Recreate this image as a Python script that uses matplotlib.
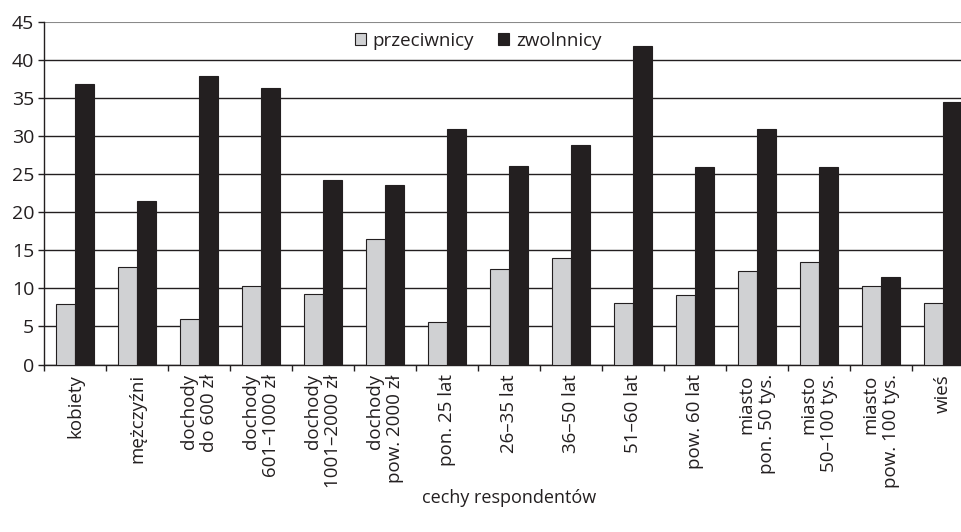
import matplotlib
matplotlib.use("Agg")
import matplotlib.pyplot as plt
import numpy as np

categories = [
    "kobiety", "mężczyźni", "dochody\ndo 600 zł", "dochody\n601–1000 zł",
    "dochody\n1001–2000 zł", "dochody\npow. 2000 zł", "pon. 25 lat", "26–35 lat",
    "36–50 lat", "51–60 lat", "pow. 60 lat", "miasto\npon. 50 tys.",
    "miasto\n50–100 tys.", "miasto\npow. 100 tys.", "wieś",
]
przeciwnicy = [7.9, 12.8, 6.0, 10.3, 9.3, 16.5, 5.6, 12.6, 14.0, 8.1, 9.1, 12.3, 13.5, 10.3, 8.1]
zwolnnicy = [36.8, 21.5, 37.9, 36.3, 24.3, 23.6, 31.0, 26.1, 28.9, 41.9, 25.9, 31.0, 25.9, 11.5, 34.5]
yticks = list(range(0, 46, 5))
series_names = ["przeciwnicy", "zwolnnicy"]
xlabel = "cechy respondentów"

plt.rcParams['font.family'] = ['Open Sans', 'DejaVu Sans']
LIGHT = "#d0d1d3"
DARK = "#231f20"

fig = plt.figure(figsize=(9.62, 5.32), dpi=100)
ax = fig.add_axes([44/962, 167.5/532, 930/962, 342.5/532])

x = np.arange(len(categories))
w = 0.3
ax.bar(x - w/2, przeciwnicy, w, color=LIGHT, edgecolor=DARK, linewidth=0.8,
       label=series_names[0], zorder=3)
ax.bar(x + w/2, zwolnnicy, w, color=DARK, edgecolor=DARK, linewidth=0.8,
       label=series_names[1], zorder=3)

ax.set_xlim(-0.5, len(categories) - 0.5)
ax.set_ylim(0, 45)
ax.set_yticks(yticks)
ax.grid(axis='y', color=DARK, linewidth=1.0, zorder=0)
gl = ax.get_ygridlines()
gl[-1].set_color("#8a8a8a")
gl[-1].set_linewidth(1.5)

ax.set_xticks(np.arange(len(categories) + 1) - 0.5)
ax.set_xticklabels([])
ax.set_xticks(x, minor=True)
ax.set_xticklabels(categories, minor=True, rotation=90, multialignment='right',
                   fontsize=13.5, color=DARK, linespacing=1.2)
ax.tick_params(axis='x', which='minor', length=0, pad=7)
ax.tick_params(axis='x', which='major', length=4, width=1, color=DARK, direction='out')
ax.tick_params(axis='y', length=4, width=1, color=DARK, labelsize=14, labelcolor=DARK, pad=3)

for s in ['top', 'right']:
    ax.spines[s].set_visible(False)
ax.spines['left'].set_color(DARK)
ax.spines['bottom'].set_color(DARK)
ax.spines['left'].set_linewidth(1)
ax.spines['bottom'].set_linewidth(1)

fig.text(509/962, 1 - 498/532, xlabel, ha='center', va='center', fontsize=13,
         color=DARK)

leg = ax.legend(loc='center', bbox_to_anchor=((478-44)/930, (365-41)/342.5), ncol=2,
                frameon=False, fontsize=13.5, handlelength=0.6, handleheight=0.6,
                handletextpad=0.35, columnspacing=1.3, borderaxespad=0)
for t in leg.get_texts():
    t.set_color(DARK)

fig.savefig("out.png", dpi=100)
